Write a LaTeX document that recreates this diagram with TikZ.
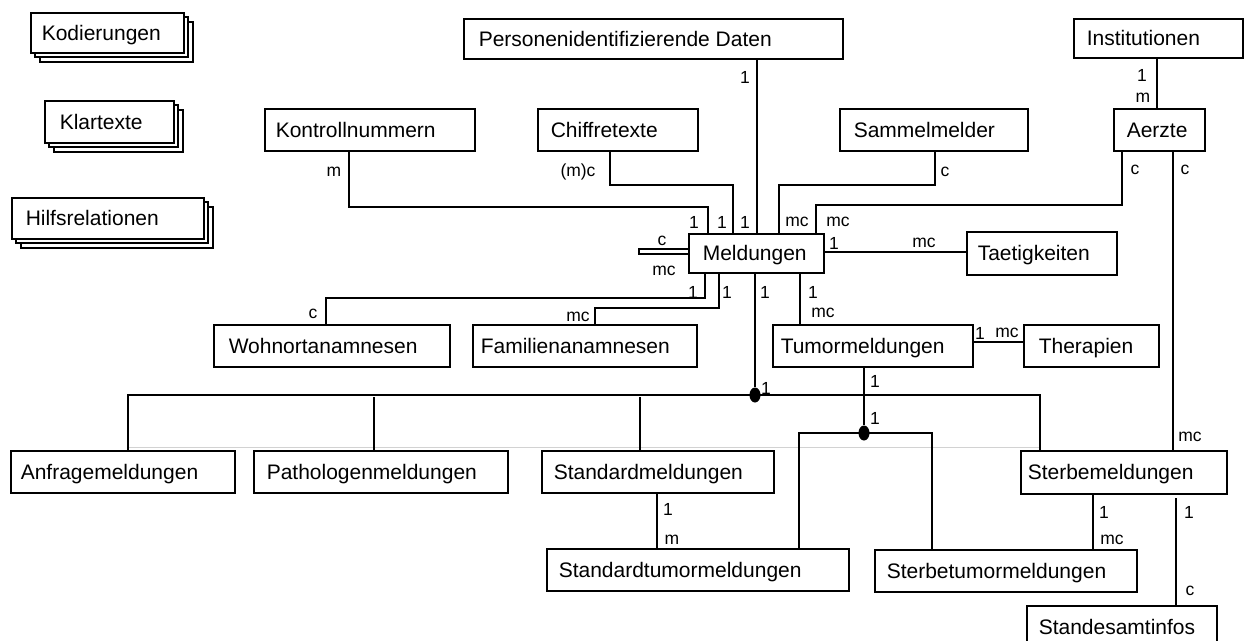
\documentclass[tikz,border=0pt]{standalone}
\usepackage{fontspec}
\setmainfont{Liberation Sans}
\usetikzlibrary{calc,shapes.geometric}
% fixed-width box content: width, left padding, text
\newcommand\bx[3]{\makebox[#1pt][l]{\hspace{#2pt}#3}}
\begin{document}
\begin{tikzpicture}[x=1pt,y=-1pt,
  ent/.style={draw, line width=1.5pt, fill=white, anchor=north west, inner sep=0pt,
    text height=16pt, text depth=1pt, font=\fontsize{21}{25}\selectfont},
  stack/.style={draw, line width=1.5pt, fill=white},
  card/.style={inner sep=0pt, anchor=center, font=\fontsize{17.5}{20}\selectfont},
  rel/.style={line width=1.5pt},
  joint/.style={ellipse, fill=black, inner sep=0pt, minimum width=11pt, minimum height=15pt}
]
\useasboundingbox (0,0) rectangle (1244,640);

% stacked relation groups
\draw[stack] (40,22) rectangle (193,62);
\draw[stack] (35,17) rectangle (188,57);
\node[ent, minimum height=40] (kod) at (30,12) {\bx{153}{11}{Kodierungen}};
\draw[stack] (54,110) rectangle (183,152);
\draw[stack] (49,105) rectangle (178,147);
\node[ent, minimum height=42] (klar) at (44,100) {\bx{129}{15}{Klartexte}};
\draw[stack] (21,207) rectangle (213,248);
\draw[stack] (16,202) rectangle (208,243);
\node[ent, minimum height=41] (hilf) at (11,197) {\bx{192}{14}{Hilfsrelationen}};

% entities
\node[ent, minimum height=40] (pers) at (463,18) {\bx{379}{15}{Personenidentifizierende Daten}};
\node[ent, minimum height=39] (inst) at (1073,18) {\bx{169}{13}{Institutionen}};
\node[ent, minimum height=42] (kontr) at (264,108) {\bx{210}{11}{Kontrollnummern}};
\node[ent, minimum height=42] (chif) at (537,108) {\bx{160}{13}{Chiffretexte}};
\node[ent, minimum height=42] (samm) at (839,108) {\bx{188}{14}{Sammelmelder}};
\node[ent, minimum height=42] (aerz) at (1113,108) {\bx{91}{13}{Aerzte}};
\node[ent, minimum height=39] (meld) at (688,233) {\bx{135}{14}{Meldungen}};
\node[ent, minimum height=43] (taet) at (966,231) {\bx{150}{11}{Taetigkeiten}};
\node[ent, minimum height=42] (wohn) at (213,324) {\bx{236}{15}{Wohnortanamnesen}};
\node[ent, minimum height=42] (fam) at (472,324) {\bx{224}{8}{Familienanamnesen}};
\node[ent, minimum height=42] (tumo) at (772,324) {\bx{200}{8}{Tumormeldungen}};
\node[ent, minimum height=42] (ther) at (1023,324) {\bx{135}{15}{Therapien}};
\node[ent, minimum height=42] (anfr) at (10,450) {\bx{224}{10}{Anfragemeldungen}};
\node[ent, minimum height=42] (path) at (253,450) {\bx{254}{13}{Pathologenmeldungen}};
\node[ent, minimum height=42] (stdm) at (541,450) {\bx{232}{12}{Standardmeldungen}};
\node[ent, minimum height=43] (strb) at (1020,450) {\bx{206}{7}{Sterbemeldungen}};
\node[ent, minimum height=42] (stdt) at (546,548) {\bx{302}{12}{Standardtumormeldungen}};
\node[ent, minimum height=42] (strt) at (874,549) {\bx{262}{12}{Sterbetumormeldungen}};
\node[ent, minimum height=42] (amt) at (1026,605) {\bx{190}{12}{Standesamtinfos}};

% generalisation joints
\node[joint] (j1) at (755,395) {};
\node[joint] (j2) at (864,433) {};

% faint guide line above the lower row
\draw[gray!35, line width=0.8pt] (anfr.north -| 128,0) ++(0,-3) -- (1040,447);

% relationships into Meldungen from above
\draw[rel] (kontr.south -| 349,0) |- (708,207) -- (meld.north -| 708,0);
\draw[rel] (chif.south -| 610,0) |- (733,185) -- (meld.north -| 733,0);
\draw[rel] (pers.south -| 757,0) -- (meld.north -| 757,0);
\draw[rel] (samm.south -| 935,0) |- (779,185) -- (meld.north -| 779,0);
\draw[rel] (aerz.south -| 1122,0) |- (816,205) -- (meld.north -| 816,0);
\draw[rel] (inst.south -| 1157,0) -- (aerz.north -| 1157,0);
\draw[rel] (aerz.south -| 1173,0) -- (strb.north -| 1173,0);
\draw[rel] (meld.east |- 0,252) -- (taet.west |- 0,252);
% recursive relationship of Meldungen
\draw[rel, line width=1.2pt] (meld.west |- 0,249) -- (639,249) -- (639,254) -- (meld.west |- 0,254);

% relationships below Meldungen
\draw[rel] (meld.south -| 705,0) |- (326,298) -- (wohn.north -| 326,0);
\draw[rel] (meld.south -| 719,0) |- (595,308) -- (fam.north -| 595,0);
\draw[rel] (meld.south -| 755,0) -- (j1);
\draw[rel] (meld.south -| 800,0) -- (tumo.north -| 800,0);
\draw[rel] (tumo.east |- 0,342) -- (ther.west |- 0,342);

% subtypes of Meldungen
\draw[rel] (anfr.north -| 128,0) |- (j1.center) -| (strb.north -| 1040,0);
\draw[rel] (path.north -| 374,0) -- (374,397);
\draw[rel] (stdm.north -| 640,0) -- (640,397);

% subtypes of Tumormeldungen
\draw[rel] (tumo.south -| 864,0) -- (j2);
\draw[rel] (stdt.north -| 799,0) |- (j2.center) -| (strt.north -| 932,0);

% lower relationships
\draw[rel] (stdm.south -| 657,0) -- (stdt.north -| 657,0);
\draw[rel] (strb.south -| 1093,0) -- (strt.north -| 1093,0);
\draw[rel] (1176,498) -- (amt.north -| 1176,0);

% cardinalities
\node[card] (c1) at (334,172) {m};
\node[card] (c2) at (694,222) {1};
\node[card] (c3) at (578,172) {(m)c};
\node[card] (c4) at (722,222) {1};
\node[card] (c5) at (745,77) {1};
\node[card] (c6) at (745,222) {1};
\node[card] (c7) at (945,172) {c};
\node[card] (c8) at (797,222) {mc};
\node[card] (c9) at (1135,170) {c};
\node[card] (c10) at (838,222) {mc};
\node[card] (c11) at (1142,75) {1};
\node[card] (c12) at (1143,98) {m};
\node[card] (c13) at (1185,170) {c};
\node[card] (c14) at (1190,437) {mc};
\node[card] (c15) at (834,243) {1};
\node[card] (c16) at (924,243) {mc};
\node[card] (c17) at (662,241) {c};
\node[card] (c18) at (664,271) {mc};
\node[card] (c19) at (693,292) {1};
\node[card] (c20) at (313,314) {c};
\node[card] (c21) at (727,292) {1};
\node[card] (c22) at (578,317) {mc};
\node[card] (c23) at (765,292) {1};
\node[card] (c24) at (813,292) {1};
\node[card] (c25) at (823,313) {mc};
\node[card] (c26) at (980,333) {1};
\node[card] (c27) at (1007,333) {mc};
\node[card] (c28) at (766,388) {1};
\node[card] (c29) at (875,381) {1};
\node[card] (c30) at (875,418) {1};
\node[card] (c31) at (668,509) {1};
\node[card] (c32) at (672,540) {m};
\node[card] (c33) at (1104,512) {1};
\node[card] (c34) at (1112,540) {mc};
\node[card] (c35) at (1189,512) {1};
\node[card] (c36) at (1190,591) {c};
\end{tikzpicture}
\end{document}
